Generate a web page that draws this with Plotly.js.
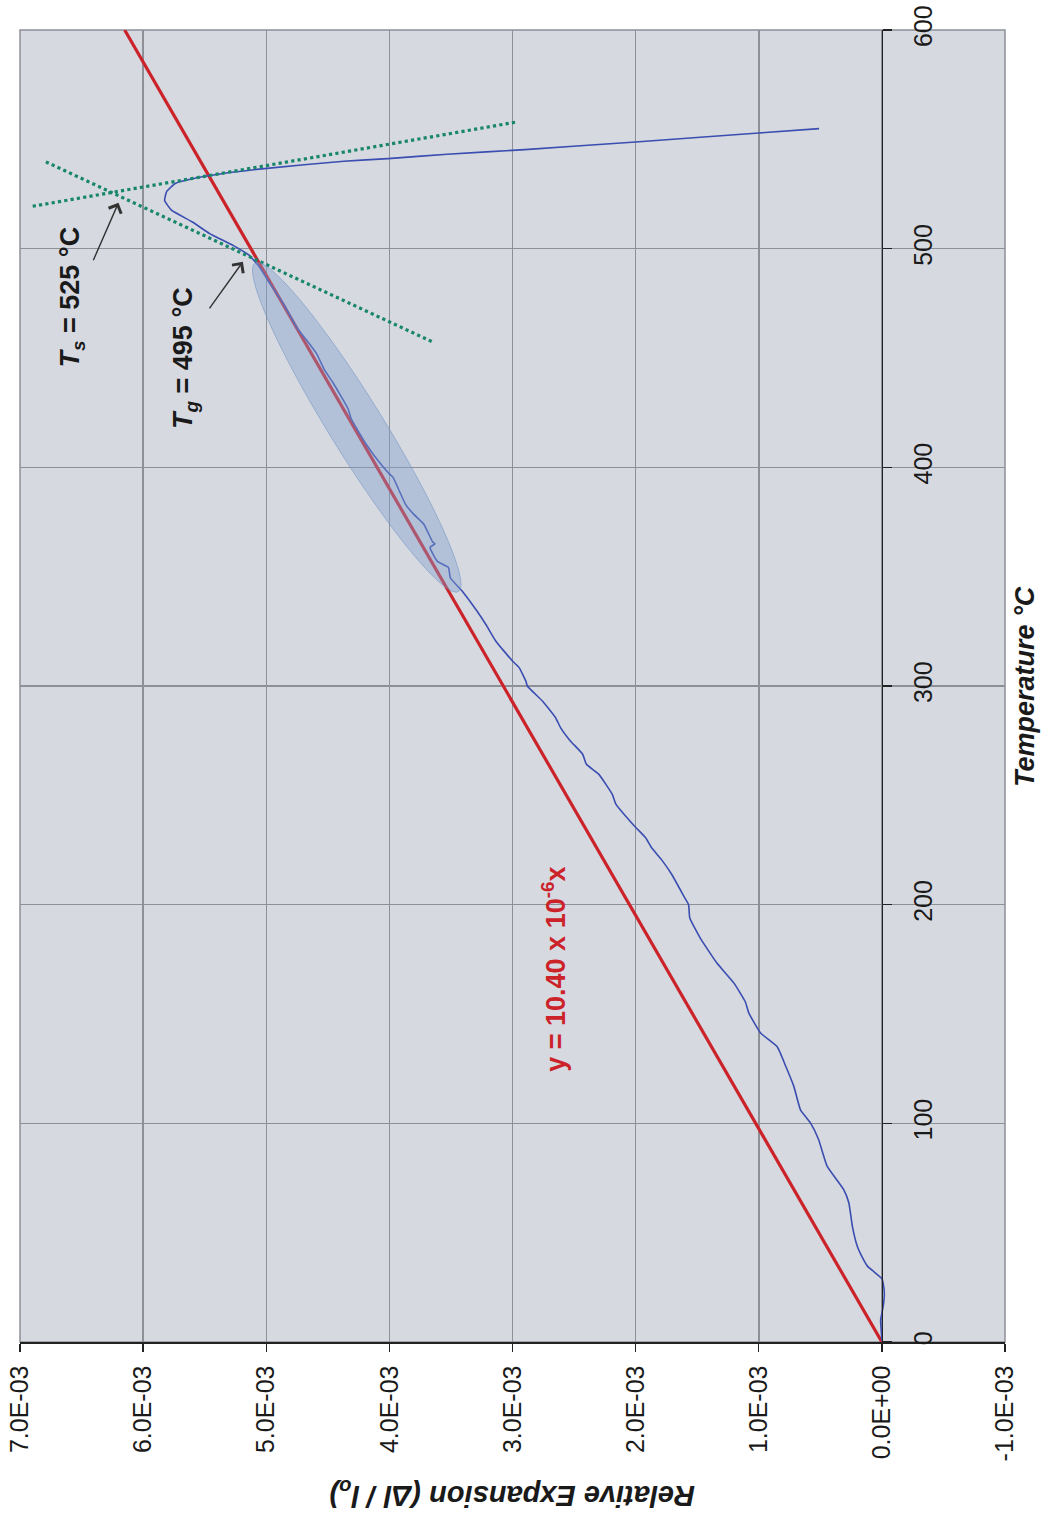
<!DOCTYPE html>
<html>
<head>
<meta charset="utf-8">
<script src="https://cdn.plot.ly/plotly-3.0.1.min.js"></script>
<style>
html,body{margin:0;padding:0;background:#ffffff;}
#chart{width:1044px;height:1518px;}
</style>
</head>
<body>
<div id="chart"></div>
<script>
// Measured dilatometer curve: temperature (°C) and relative expansion (Δl/l0)
const curveTemp = [0.5, 5, 10, 16, 22, 27, 29, 34.7, 40, 43.8, 53, 63.6, 69.7, 80.4, 92.6, 100.2, 106, 116.9, 126, 135,
  141.3, 150.4, 155.7, 164, 173.3, 184.7, 193.9, 200, 203, 213.7, 220.6, 226, 230.7, 236, 246, 250.5, 259.7, 264.2, 268.8, 274.9,
  281, 285.5, 293, 300, 302, 308.4, 311.4, 320.5, 328, 334.4, 342.8, 349.5, 354.2, 357, 363.4, 365, 366, 374, 378.7, 383.2,
  395.4, 397, 400.8, 410.7, 415.3, 422.2, 426.7, 438.9, 444.3, 451.9, 458, 464.1, 474.8, 484, 491.6, 497, 501.5, 506.9, 512.2, 517.6,
  522, 526, 529.8, 532, 534.4, 536.6, 540, 541.2, 543.2, 545.3, 548.8, 552.9, 554.9];
const curveExp = [0.0e-3, 0.005e-3, 0.01e-3, -0.01e-3, -0.02e-3, -0.01e-3, 0.0e-3, 0.117e-3, 0.17e-3, 0.2e-3, 0.24e-3, 0.268e-3, 0.31e-3, 0.445e-3, 0.514e-3, 0.58e-3, 0.66e-3, 0.715e-3, 0.78e-3, 0.85e-3,
  0.985e-3, 1.08e-3, 1.11e-3, 1.2e-3, 1.34e-3, 1.475e-3, 1.56e-3, 1.57e-3, 1.6e-3, 1.705e-3, 1.79e-3, 1.87e-3, 1.92e-3, 2.01e-3, 2.16e-3, 2.19e-3, 2.30e-3, 2.40e-3, 2.43e-3, 2.53e-3,
  2.61e-3, 2.65e-3, 2.755e-3, 2.88e-3, 2.89e-3, 2.946e-3, 3.0e-3, 3.135e-3, 3.215e-3, 3.29e-3, 3.40e-3, 3.505e-3, 3.52e-3, 3.61e-3, 3.67e-3, 3.63e-3, 3.65e-3, 3.72e-3, 3.805e-3, 3.87e-3,
  3.97e-3, 4.0e-3, 4.06e-3, 4.19e-3, 4.24e-3, 4.31e-3, 4.335e-3, 4.46e-3, 4.525e-3, 4.59e-3, 4.67e-3, 4.755e-3, 4.86e-3, 4.97e-3, 5.055e-3, 5.14e-3, 5.27e-3, 5.46e-3, 5.60e-3, 5.77e-3,
  5.825e-3, 5.81e-3, 5.74e-3, 5.60e-3, 5.35e-3, 5.015e-3, 4.37e-3, 4.01e-3, 3.53e-3, 2.90e-3, 2.0e-3, 1.0e-3, 0.51e-3];

// Linear fit y = 10.40e-6 x (as drawn)
const fitTemp = [0, 600];
const fitExp = [0, 6.15e-3];

// Tangent lines used to locate Ts and Tg
const softTangentTemp = [519.4, 558.0];
const softTangentExp = [6.897e-3, 2.959e-3];
const glassTangentTemp = [539.7, 457.5];
const glassTangentExp = [6.79e-3, 3.655e-3];

// Axis ticks
const expTickVals = [7e-3, 6e-3, 5e-3, 4e-3, 3e-3, 2e-3, 1e-3, 0, -1e-3];
const expTickText = ["7.0E-03", "6.0E-03", "5.0E-03", "4.0E-03", "3.0E-03", "2.0E-03", "1.0E-03", "0.0E+00", "-1.0E-03"];
const tempTickVals = [0, 100, 200, 300, 400, 500, 600];
const tempTickText = ["0", "100", "200", "300", "400", "500", "600"];

// Ts / Tg markers (arrow head and tail in data units)
const tsArrow = {headExp: 6.20e-3, headTemp: 521, tailExp: 6.41e-3, tailTemp: 494};
const tgArrow = {headExp: 5.19e-3, headTemp: 494, tailExp: 5.47e-3, tailTemp: 472};

// Highlight ellipse (centre and conjugate semi-axes in data units)
const ellCenter = {exp: 4.265e-3, temp: 418.3};
const ellMajor = {exp: -0.826e-3, temp: -75.1};
const ellMinor = {exp: -0.186e-3, temp: 6.5};

function ellipsePath(c, u, v, n) {
  let p = '';
  for (let i = 0; i <= n; i++) {
    const t = 2 * Math.PI * i / n;
    const x = c.exp + u.exp * Math.cos(t) + v.exp * Math.sin(t);
    const y = c.temp + u.temp * Math.cos(t) + v.temp * Math.sin(t);
    p += (i === 0 ? 'M' : 'L') + x + ',' + y + ' ';
  }
  return p + 'Z';
}

const tickFont = {family: '"Liberation Sans", Arial, sans-serif', size: 25, color: '#1a1a1a'};
const boldFont = {family: '"Liberation Sans", Arial, sans-serif', size: 27, color: '#1a1a1a', weight: 'bold'};

const traces = [
  {x: fitExp, y: fitTemp, type: 'scatter', mode: 'lines', line: {color: '#cc2229', width: 3.2}, hoverinfo: 'skip'},
  {x: curveExp, y: curveTemp, type: 'scatter', mode: 'lines', line: {color: '#3a4db0', width: 1.6, shape: 'spline', smoothing: 0.4}, hoverinfo: 'skip'},
  {x: softTangentExp, y: softTangentTemp, type: 'scatter', mode: 'lines', line: {color: '#17866a', width: 3.2, dash: 'dot'}, hoverinfo: 'skip'},
  {x: glassTangentExp, y: glassTangentTemp, type: 'scatter', mode: 'lines', line: {color: '#17866a', width: 3.2, dash: 'dot'}, hoverinfo: 'skip'}
];

const layout = {
  width: 1044, height: 1518,
  margin: {l: 20, r: 39, t: 30, b: 176, pad: 0},
  paper_bgcolor: '#ffffff',
  plot_bgcolor: '#d6d9e0',
  showlegend: false,
  xaxis: {
    range: [7e-3, -1e-3], tickvals: expTickVals, ticktext: expTickText, tickangle: -90,
    showgrid: true, gridcolor: '#8d9096', gridwidth: 1.5, zeroline: false,
    showline: true, linecolor: '#222222', linewidth: 1.5,
    ticks: 'outside', ticklen: 8, tickwidth: 1.3, tickcolor: '#222222',
    ticklabelstandoff: 4,
    tickfont: tickFont, fixedrange: true
  },
  yaxis: {
    range: [0, 600], tickvals: tempTickVals, ticktext: tempTickText, tickangle: -90,
    anchor: 'free', position: 0.875, side: 'right',
    showgrid: true, gridcolor: '#8d9096', gridwidth: 1.5, zeroline: false,
    showline: true, linecolor: '#222222', linewidth: 1.5,
    ticks: 'outside', ticklen: 9, tickwidth: 1.3, tickcolor: '#222222',
    ticklabelstandoff: 10,
    tickfont: tickFont, fixedrange: true
  },
  shapes: [
    {type: 'rect', xref: 'paper', yref: 'paper', x0: 0, x1: 1, y0: 0, y1: 1, line: {color: '#8d9096', width: 1.5}, layer: 'between'},
    {type: 'path', xref: 'x', yref: 'y', path: ellipsePath(ellCenter, ellMajor, ellMinor, 90),
     fillcolor: 'rgba(130,160,205,0.42)', line: {color: 'rgba(110,145,195,0.55)', width: 1}, layer: 'above'}
  ],
  annotations: [
    {xref: 'paper', yref: 'paper', x: 1.0203, y: 0.5, text: 'Temperature °C', showarrow: false, textangle: -90,
     xanchor: 'center', yanchor: 'middle', font: Object.assign({}, boldFont, {style: 'italic'})},
    {xref: 'paper', yref: 'paper', x: 0.5, y: -0.1159, text: 'Relative Expansion (Δl / l<sub>o</sub>)', showarrow: false, textangle: 180,
     xanchor: 'center', yanchor: 'middle', font: Object.assign({}, boldFont, {style: 'italic', size: 29})},
    {xref: 'x', yref: 'y', x: 2.67e-3, y: 170.3, text: 'y = 10.40 x 10<sup>-6</sup>x', showarrow: false, textangle: -90,
     xanchor: 'center', yanchor: 'middle', font: Object.assign({}, boldFont, {color: '#cc2229'})},
    {xref: 'x', yref: 'y', x: 6.58e-3, y: 478, text: '<i>T</i><sub><i>s</i></sub> = 525 °C', showarrow: false, textangle: -90,
     xanchor: 'center', yanchor: 'middle', font: boldFont},
    {xref: 'x', yref: 'y', x: 5.66e-3, y: 450, text: '<i>T</i><sub><i>g</i></sub> = 495 °C', showarrow: false, textangle: -90,
     xanchor: 'center', yanchor: 'middle', font: boldFont},
    {xref: 'x', yref: 'y', axref: 'x', ayref: 'y', x: tsArrow.headExp, y: tsArrow.headTemp, ax: tsArrow.tailExp, ay: tsArrow.tailTemp,
     text: '', showarrow: true, arrowhead: 4, arrowsize: 1.9, arrowwidth: 1.4, arrowcolor: '#333333', standoff: 0},
    {xref: 'x', yref: 'y', axref: 'x', ayref: 'y', x: tgArrow.headExp, y: tgArrow.headTemp, ax: tgArrow.tailExp, ay: tgArrow.tailTemp,
     text: '', showarrow: true, arrowhead: 4, arrowsize: 1.9, arrowwidth: 1.4, arrowcolor: '#333333', standoff: 0}
  ]
};

Plotly.newPlot('chart', traces, layout, {displayModeBar: false, staticPlot: true});
</script>
</body>
</html>
